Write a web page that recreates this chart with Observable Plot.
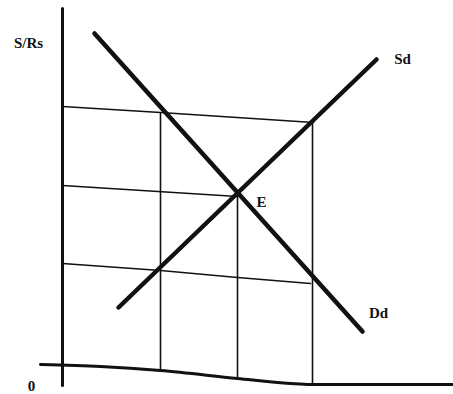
<!DOCTYPE html>
<html>
<head>
<meta charset="utf-8">
<script src="https://cdn.jsdelivr.net/npm/d3@7"></script>
<script src="https://cdn.jsdelivr.net/npm/@observablehq/plot@0.6"></script>
<style>
  html, body { margin: 0; padding: 0; background: #fff; }
  #chart svg { display: block; }
</style>
</head>
<body>
<div id="chart"></div>
<script>
// Quantity (q) and price (p) in arbitrary diagram units, origin at the axes' corner
const priceAxis = [{q: 0, p: -2.1}, {q: 0, p: 35.6}];
const quantityAxis = [
  {q: -2.2, p: 0.0}, {q: 3.8, p: -0.2}, {q: 9.8, p: -0.6}, {q: 17.5, p: -1.4},
  {q: 22.8, p: -1.9}, {q: 24.8, p: -2.0}, {q: 39.1, p: -2.0}
];
const gridTop = [{q: 0, p: 25.8}, {q: 9.8, p: 25.2}, {q: 25.1, p: 24.2}];
const gridMid = [{q: 0, p: 17.9}, {q: 17.5, p: 16.8}];
const gridLow = [{q: 0, p: 10.1}, {q: 9.8, p: 9.4}, {q: 17.5, p: 8.7}, {q: 24.8, p: 8.1}];
const gridVerticals = [
  {q: 9.8, top: 25.2, bottom: -0.6},
  {q: 17.5, top: 16.8, bottom: -1.4},
  {q: 25.0, top: 24.2, bottom: -2.0}
];
const demand = [{q: 3.2, p: 33.1}, {q: 30.0, p: 3.3}];
const supply = [{q: 5.6, p: 5.7}, {q: 31.4, p: 30.5}];
const labels = [
  {q: -3.4, p: 32.1, text: "S/Rs"},
  {q: 34.0, p: 30.5, text: "Sd"},
  {q: 19.9, p: 16.2, text: "E"},
  {q: 31.6, p: 5.1, text: "Dd"},
  {q: -3.1, p: -2.2, text: "0"}
];

const ink = "#111";
const chart = Plot.plot({
  width: 453,
  height: 394,
  margin: 0,
  x: {domain: [-6.2, 39.1], axis: null},
  y: {domain: [-3.0, 36.4], axis: null},
  style: {background: "#fff"},
  marks: [
    Plot.line(gridTop, {x: "q", y: "p", stroke: ink, strokeWidth: 1.6, curve: "natural"}),
    Plot.line(gridMid, {x: "q", y: "p", stroke: ink, strokeWidth: 1.6}),
    Plot.line(gridLow, {x: "q", y: "p", stroke: ink, strokeWidth: 1.6}),
    Plot.link(gridVerticals, {x1: "q", x2: "q", y1: "top", y2: "bottom", stroke: ink, strokeWidth: 1.6}),
    Plot.line(priceAxis, {x: "q", y: "p", stroke: ink, strokeWidth: 3}),
    Plot.line(quantityAxis, {x: "q", y: "p", stroke: ink, strokeWidth: 3, curve: "monotone-x"}),
    Plot.line(demand, {x: "q", y: "p", stroke: ink, strokeWidth: 4.5}),
    Plot.line(supply, {x: "q", y: "p", stroke: ink, strokeWidth: 4.5}),
    Plot.text(labels, {x: "q", y: "p", text: "text", fill: ink, fontSize: 15, fontWeight: "bold",
      fontFamily: "Liberation Serif, DejaVu Serif, serif"})
  ]
});
document.getElementById("chart").appendChild(chart);
</script>
</body>
</html>
